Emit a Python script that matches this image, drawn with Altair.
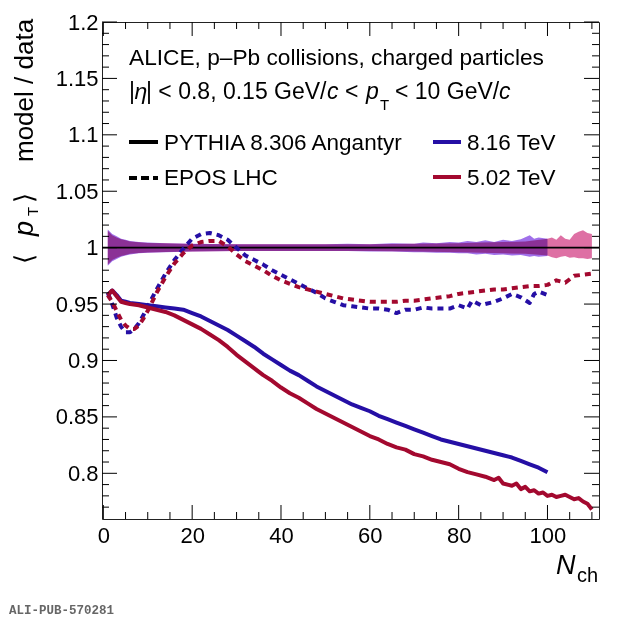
import altair as alt
import pandas as pd

# ---------------- data ----------------
X_PY816 = [1, 2, 3, 4, 5, 6, 8, 10, 12, 14, 16, 18, 20, 22, 24, 26, 28, 30, 32, 34, 36, 38, 40,
           42, 44, 46, 48, 50, 52, 54, 56, 58, 60, 62, 64, 66, 68, 70, 72, 74, 76, 78, 80,
           82, 84, 86, 88, 90, 92, 94, 96, 98, 100]
PYTHIA_816 = [0.958, 0.962, 0.958, 0.953, 0.952, 0.951, 0.950, 0.949, 0.948, 0.947, 0.946, 0.945,
              0.942, 0.939, 0.935, 0.931, 0.927, 0.922, 0.917, 0.912, 0.906, 0.901, 0.896,
              0.891, 0.887, 0.882, 0.877, 0.873, 0.869, 0.865, 0.861, 0.858, 0.855, 0.851,
              0.848, 0.845, 0.842, 0.839, 0.836, 0.833, 0.830, 0.828, 0.826, 0.824, 0.822,
              0.820, 0.818, 0.816, 0.814, 0.811, 0.808, 0.805, 0.801]

X_PY502 = [1, 2, 3, 4, 5, 6, 8, 10, 12, 14, 16, 18, 20, 22, 24, 26, 28, 30, 32, 34, 36, 38, 40,
           42, 44, 46, 48, 50, 52, 54, 56, 58, 60, 62, 64, 66, 68, 70, 72, 74, 76, 78, 80,
           82, 84, 86, 88, 89, 90, 92, 93, 94, 95, 96, 97, 98, 99, 100, 101, 102, 103, 104,
           105, 106, 107, 108, 109, 110]
PYTHIA_502 = [0.958, 0.962, 0.957, 0.952, 0.951, 0.950, 0.949, 0.947, 0.945, 0.943, 0.940, 0.936,
              0.932, 0.928, 0.923, 0.918, 0.912, 0.905, 0.899, 0.893, 0.887, 0.882, 0.876,
              0.871, 0.867, 0.862, 0.857, 0.853, 0.849, 0.845, 0.841, 0.837, 0.833, 0.830,
              0.826, 0.823, 0.821, 0.817, 0.815, 0.812, 0.810, 0.808, 0.804, 0.801, 0.799,
              0.797, 0.794, 0.796, 0.791, 0.789, 0.791, 0.786, 0.788, 0.784, 0.785, 0.782,
              0.783, 0.780, 0.781, 0.779, 0.780, 0.781, 0.779, 0.777, 0.778, 0.775, 0.773, 0.768]

X_EP816 = [1, 2, 3, 4, 5, 6, 7, 8, 9, 10, 12, 14, 16, 18, 20, 22, 24, 26, 28, 30, 32, 34, 36,
           38, 40, 42, 44, 46, 48, 50, 52, 54, 56, 58, 60, 62, 64, 66, 68, 70, 72, 74, 76,
           78, 80, 82, 83, 85, 88, 90, 92, 94, 96, 97, 98, 100]
EPOS_816 = [0.960, 0.950, 0.938, 0.930, 0.925, 0.925, 0.928, 0.933, 0.940, 0.948, 0.963, 0.977,
            0.989, 0.999, 1.008, 1.012, 1.013, 1.011, 1.007, 1.000, 0.993, 0.989, 0.985,
            0.980, 0.976, 0.972, 0.968, 0.964, 0.960, 0.955, 0.952, 0.949, 0.948, 0.947,
            0.946, 0.946, 0.945, 0.942, 0.945, 0.945, 0.947, 0.946, 0.946, 0.946, 0.949,
            0.946, 0.953, 0.949, 0.952, 0.955, 0.959, 0.956, 0.951, 0.959, 0.961, 0.958]

X_EP502 = [1, 2, 3, 4, 5, 6, 7, 8, 9, 10, 12, 14, 16, 18, 20, 22, 24, 26, 28, 30, 32, 34, 36,
           38, 40, 42, 44, 46, 48, 50, 52, 54, 56, 58, 60, 62, 64, 66, 68, 70, 72, 74, 76,
           78, 80, 82, 84, 86, 88, 90, 92, 94, 96, 98, 100, 102, 104, 106, 108, 110]
EPOS_502 = [0.958, 0.952, 0.944, 0.936, 0.931, 0.928, 0.928, 0.931, 0.937, 0.944, 0.960, 0.974,
            0.986, 0.995, 1.002, 1.005, 1.006, 1.006, 1.001, 0.994, 0.988, 0.984, 0.980,
            0.975, 0.971, 0.968, 0.965, 0.963, 0.961, 0.959, 0.957, 0.955, 0.954, 0.953,
            0.952, 0.952, 0.952, 0.952, 0.953, 0.953, 0.954, 0.955, 0.956, 0.957, 0.959,
            0.960, 0.961, 0.962, 0.963, 0.963, 0.964, 0.965, 0.966, 0.966, 0.967, 0.971,
            0.969, 0.975, 0.976, 0.977]

# data uncertainty bands (deviation from unity)
BAND816_X = [1, 2, 3, 4, 5, 6, 8, 10, 14, 20, 30, 40, 50, 55, 60, 65, 70, 72, 75, 78,
             80, 82, 84, 86, 88, 90, 92, 94, 96, 97, 98, 100]
BAND816_UP = [0.016, 0.012, 0.010, 0.008, 0.007, 0.006, 0.005, 0.0045, 0.004, 0.0035,
              0.003, 0.003, 0.003, 0.0035, 0.003, 0.004, 0.0035, 0.0045, 0.004, 0.005,
              0.0045, 0.006, 0.005, 0.0065, 0.005, 0.007, 0.006, 0.0075, 0.011, 0.008,
              0.009, 0.008]
BAND816_DN = [0.016, 0.012, 0.010, 0.008, 0.007, 0.006, 0.005, 0.0045, 0.004, 0.0035,
              0.003, 0.003, 0.003, 0.003, 0.0035, 0.0035, 0.004, 0.004, 0.0045, 0.0045,
              0.005, 0.005, 0.006, 0.0055, 0.0065, 0.006, 0.007, 0.0065, 0.008, 0.0075,
              0.008, 0.0075]
BAND502_X = [1, 2, 3, 4, 5, 6, 8, 10, 14, 20, 30, 40, 50, 60, 70, 80, 85, 90, 95, 100,
             101, 102, 103, 104, 105, 106, 107, 108, 109, 110]
BAND502_UP = [0.015, 0.011, 0.009, 0.0075, 0.0065, 0.0055, 0.0048, 0.0042, 0.0038, 0.0033,
              0.003, 0.003, 0.003, 0.003, 0.0035, 0.004, 0.0045, 0.005, 0.0055, 0.008,
              0.009, 0.007, 0.011, 0.008, 0.007, 0.012, 0.014, 0.0155, 0.013, 0.012]
BAND502_DN = [0.015, 0.011, 0.009, 0.0075, 0.0065, 0.0055, 0.0048, 0.0042, 0.0038, 0.0033,
              0.003, 0.003, 0.003, 0.003, 0.0035, 0.004, 0.0045, 0.005, 0.0055, 0.007,
              0.0085, 0.0095, 0.008, 0.0075, 0.009, 0.0085, 0.0095, 0.0095, 0.01, 0.0095]

X_MAJOR = [0, 20, 40, 60, 80, 100]
X_MINOR = [5, 10, 15, 25, 30, 35, 45, 50, 55, 65, 70, 75, 85, 90, 95, 105, 110]
Y_MAJOR = [0.8, 0.85, 0.9, 0.95, 1.0, 1.05, 1.1, 1.15, 1.2]
Y_MINOR = [0.77, 0.78, 0.79, 0.81, 0.82, 0.83, 0.84, 0.86, 0.87, 0.88, 0.89, 0.91, 0.92,
           0.93, 0.94, 0.96, 0.97, 0.98, 0.99, 1.01, 1.02, 1.03, 1.04, 1.06, 1.07, 1.08,
           1.09, 1.11, 1.12, 1.13, 1.14, 1.16, 1.17, 1.18, 1.19]

# ---------------- style ----------------
BLUE = "#250fa5"
RED = "#a3092f"
FONT = "Liberation Sans"
W, H = 497, 497
OX, OY = 102, 22  # plot origin on the page
DASH = [6, 5]

xscale = alt.Scale(domain=[-0.3, 111.6], nice=False, zero=False)
yscale = alt.Scale(domain=[0.7595, 1.2], nice=False, zero=False)
xaxis = alt.Axis(values=X_MAJOR, title=None, ticks=False, domain=False, grid=False,
                 labelFont=FONT, labelFontSize=22, labelColor="black", labelPadding=6,
                 labelFlush=False, labelOverlap=False, format="d")
yaxis = alt.Axis(values=Y_MAJOR, title=None, ticks=False, domain=False, grid=False,
                 labelFont=FONT, labelFontSize=22, labelColor="black", labelPadding=4,
                 labelOverlap=False, format="~g")


def X(f="x"):
    return alt.X(f + ":Q", scale=xscale, axis=xaxis)


def Y(f="y"):
    return alt.Y(f + ":Q", scale=yscale, axis=yaxis)


ONE = alt.Data(values=[{"k": 0}])


def txt(s, px, py, size=22.5, style="normal", align="left", baseline="alphabetic",
        angle=0, color="black", font=FONT, weight="normal"):
    return alt.Chart(ONE).mark_text(text=s, font=font, fontSize=size, fontStyle=style,
                                    fontWeight=weight, align=align, baseline=baseline,
                                    angle=angle, color=color).encode(
        x=alt.value(px - OX), y=alt.value(py - OY))


def sample(px1, px2, py, color, dash=None):
    kw = dict(color=color, strokeWidth=4)
    if dash:
        kw["strokeDash"] = dash
    return alt.Chart(ONE).mark_rule(**kw).encode(
        x=alt.value(px1 - OX), x2=alt.value(px2 - OX), y=alt.value(py - OY))


def band(xs, up, dn, color):
    df = pd.DataFrame({"x": xs, "y": [1 - d for d in dn], "y2": [1 + u for u in up]})
    return alt.Chart(df).mark_area(color=color, opacity=1, blend="multiply").encode(
        x=X(), y=Y(), y2="y2:Q")


def curve(xs, ys, color, dash=None):
    df = pd.DataFrame({"x": xs, "y": ys})
    kw = dict(color=color, strokeWidth=4, strokeCap="butt", strokeJoin="round")
    if dash:
        kw["strokeDash"] = dash
    return alt.Chart(df).mark_line(**kw).encode(x=X(), y=Y())


layers = [
    band(BAND816_X, BAND816_UP, BAND816_DN, "#a070ea"),
    band(BAND502_X, BAND502_UP, BAND502_DN, "#de70a4"),
    alt.Chart(pd.DataFrame({"y": [1.0]})).mark_rule(color="black", strokeWidth=1.6).encode(
        y=Y(), x=alt.value(0), x2=alt.value(W)),
    curve(X_EP816, EPOS_816, BLUE, DASH),
    curve(X_EP502, EPOS_502, RED, DASH),
    curve(X_PY816, PYTHIA_816, BLUE),
    curve(X_PY502, PYTHIA_502, RED),
]

# inward ROOT-style ticks on all four sides
dxM = pd.DataFrame({"x": X_MAJOR})
dxm = pd.DataFrame({"x": X_MINOR})
dyM = pd.DataFrame({"y": Y_MAJOR})
dym = pd.DataFrame({"y": Y_MINOR})
tk = dict(color="black", strokeWidth=1)
layers += [
    alt.Chart(dxM).mark_rule(**tk).encode(x=X(), y=alt.value(H), y2=alt.value(H - 14)),
    alt.Chart(dxm).mark_rule(**tk).encode(x=X(), y=alt.value(H), y2=alt.value(H - 7)),
    alt.Chart(dxM).mark_rule(**tk).encode(x=X(), y=alt.value(0), y2=alt.value(14)),
    alt.Chart(dxm).mark_rule(**tk).encode(x=X(), y=alt.value(0), y2=alt.value(7)),
    alt.Chart(dyM).mark_rule(**tk).encode(y=Y(), x=alt.value(0), x2=alt.value(15)),
    alt.Chart(dym).mark_rule(**tk).encode(y=Y(), x=alt.value(0), x2=alt.value(7)),
    alt.Chart(dyM).mark_rule(**tk).encode(y=Y(), x=alt.value(W), x2=alt.value(W - 15)),
    alt.Chart(dym).mark_rule(**tk).encode(y=Y(), x=alt.value(W), x2=alt.value(W - 7)),
]

# header text
layers += [
    txt("ALICE, p–Pb collisions, charged particles", 129, 65, size=22.7),
    txt("|", 129, 99, size=23),
    txt("η", 134.5, 99, size=23, style="italic"),
    txt("| < 0.8, 0.15 GeV/", 146, 99, size=23),
    txt("c", 327, 99, size=23, style="italic"),
    txt("<", 345, 99, size=23),
    txt("p", 366, 99, size=23, style="italic"),
    txt("T", 380, 110, size=15),
    txt("< 10 GeV/", 395, 99, size=23),
    txt("c", 499, 99, size=23, style="italic"),
]

# legend
layers += [
    sample(129, 158, 142, "black"),
    txt("PYTHIA 8.306 Angantyr", 164, 150),
    sample(129, 158, 178, "black", [8, 4]),
    txt("EPOS LHC", 164, 185),
    sample(433, 461, 142, BLUE),
    txt("8.16 TeV", 467, 150),
    sample(433, 461, 177, RED),
    txt("5.02 TeV", 467, 185),
]

# axis titles and tag
layers += [
    txt("⟨", 33, 264, size=26, angle=270),
    txt("p", 33, 236, size=27, style="italic", angle=270),
    txt("T", 38, 216, size=15, angle=270),
    txt("⟩", 33, 203, size=26, angle=270),
    txt("model / data", 33, 162, size=26, angle=270),
    txt("N", 556, 574, size=27, style="italic"),
    txt("ch", 577, 582, size=20),
    txt("ALI-PUB-570281", 9, 614, size=12.5, font="Liberation Mono", weight="bold",
        color="#666666"),
]

chart = alt.layer(*layers).properties(
    width=W, height=H,
    autosize=alt.AutoSizeParams(type="none"),
    padding={"left": 94, "top": 14, "right": 13, "bottom": 100},
    background="white",
).configure_view(stroke="#222222", strokeWidth=1)

chart.save("out.html", embed_options={"renderer": "svg", "actions": False})
